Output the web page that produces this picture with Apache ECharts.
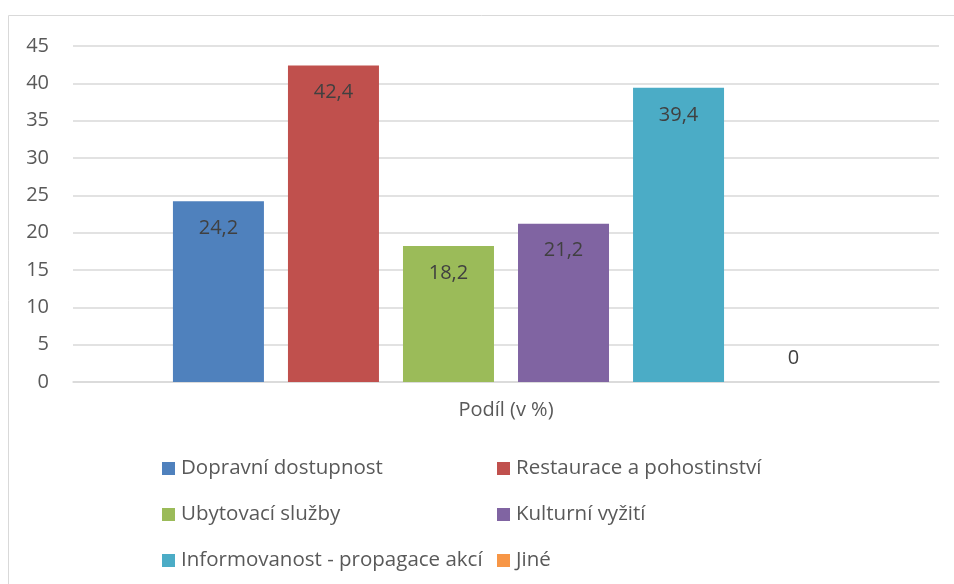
<!DOCTYPE html>
<html>
<head>
<meta charset="utf-8">
<script src="https://cdn.jsdelivr.net/npm/echarts@6/dist/echarts.min.js"></script>
<style>
  html, body { margin: 0; padding: 0; background: #fff; }
  #chart { width: 954px; height: 584px; }
</style>
</head>
<body>
<div id="chart"></div>
<script>
var CATEGORIES = ['Podíl (v %)'];
var SERIES_NAMES = [
  'Dopravní dostupnost', 'Restaurace a pohostinství',
  'Ubytovací služby', 'Kulturní vyžití',
  'Informovanost - propagace akcí', 'Jiné'
];
var SERIES_VALUES = [24.2, 42.4, 18.2, 21.2, 39.4, 0];
var COLORS = ['#4F81BD', '#C0504D', '#9BBB59', '#8064A2', '#4BACC6', '#F79646'];
var Y_MIN = 0, Y_MAX = 45, Y_STEP = 5;

var FONT = 'Open Sans';
var chart = echarts.init(document.getElementById('chart'), null, { renderer: 'canvas' });

function fmt(p) {
  return String(p.value).replace('.', ',');
}

var series = SERIES_NAMES.map(function (name, i) {
  var v = SERIES_VALUES[i];
  return {
    name: name,
    type: 'bar',
    data: [v],
    barWidth: 91,
    barGap: '26.4%',
    itemStyle: { color: COLORS[i] },
    label: {
      show: true,
      position: v > 0 ? 'insideTop' : 'top',
      distance: v > 0 ? 17 : 14,
      formatter: fmt,
      color: '#404040',
      fontFamily: FONT,
      fontSize: 20
    }
  };
});

function legendCol(names, left) {
  return {
    orient: 'vertical',
    left: left,
    top: 458,
    padding: 0,
    itemWidth: 13,
    itemHeight: 13,
    itemGap: 25,
    icon: 'rect',
    selectedMode: false,
    data: names,
    textStyle: { color: '#595959', fontFamily: FONT, fontSize: 20.5, lineHeight: 20, padding: [0, 0, 0, 1] }
  };
}

chart.setOption({
  animation: false,
  color: COLORS,
  graphic: [{
    type: 'rect',
    shape: { x: 8.5, y: 15.5, width: 1200, height: 1200 },
    style: { fill: 'none', stroke: '#d9d9d9', lineWidth: 1 },
    silent: true
  }],
  grid: { left: 73, right: 15, top: 46, bottom: 202, containLabel: false },
  legend: [
    legendCol([SERIES_NAMES[0], SERIES_NAMES[2], SERIES_NAMES[4]], 162),
    legendCol([SERIES_NAMES[1], SERIES_NAMES[3], SERIES_NAMES[5]], 497)
  ],
  xAxis: {
    type: 'category',
    data: CATEGORIES,
    axisTick: { show: false },
    axisLine: { lineStyle: { color: '#d9d9d9', width: 1.5 } },
    axisLabel: { color: '#595959', fontFamily: FONT, fontSize: 20, margin: 18 }
  },
  yAxis: {
    type: 'value',
    min: Y_MIN,
    max: Y_MAX,
    interval: Y_STEP,
    axisLine: { show: false },
    axisTick: { show: false },
    splitLine: { lineStyle: { color: '#d9d9d9', width: 1.5 } },
    axisLabel: { color: '#595959', fontFamily: FONT, fontSize: 20, margin: 24 }
  },
  series: series
});
</script>
</body>
</html>
